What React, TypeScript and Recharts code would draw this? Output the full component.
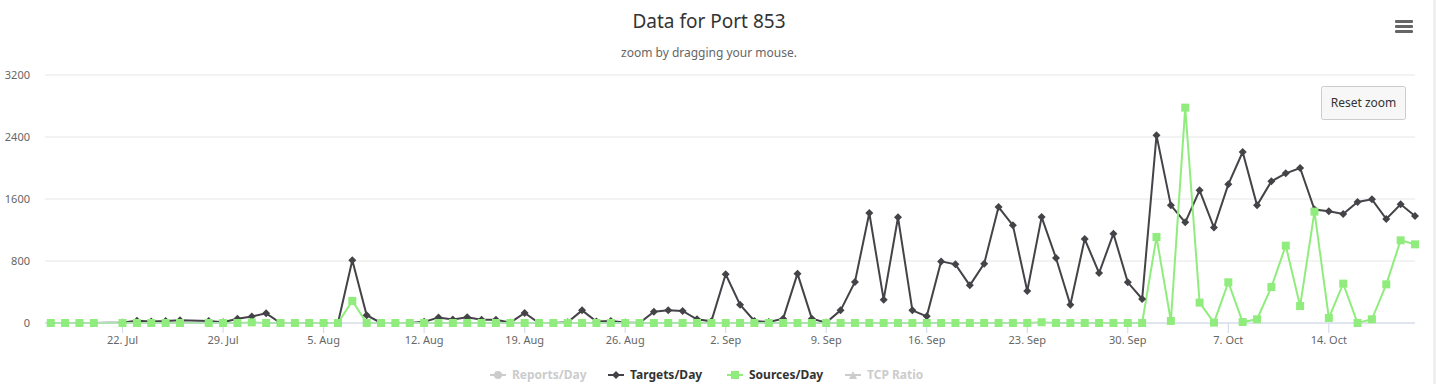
import React from "react";
import { LineChart, Line, XAxis, YAxis, CartesianGrid } from "recharts";

const dates = [
  "2019-07-17", "2019-07-18", "2019-07-19", "2019-07-20",
  "2019-07-22", "2019-07-23", "2019-07-24", "2019-07-25", "2019-07-26",
  "2019-07-28", "2019-07-29", "2019-07-30", "2019-07-31",
  "2019-08-01", "2019-08-02", "2019-08-03", "2019-08-04", "2019-08-05", "2019-08-06", "2019-08-07", "2019-08-08",
  "2019-08-09", "2019-08-10", "2019-08-11", "2019-08-12", "2019-08-13", "2019-08-14", "2019-08-15", "2019-08-16",
  "2019-08-17", "2019-08-18", "2019-08-19", "2019-08-20", "2019-08-21", "2019-08-22", "2019-08-23", "2019-08-24",
  "2019-08-25", "2019-08-26", "2019-08-27", "2019-08-28", "2019-08-29", "2019-08-30", "2019-08-31",
  "2019-09-01", "2019-09-02", "2019-09-03", "2019-09-04", "2019-09-05", "2019-09-06", "2019-09-07", "2019-09-08",
  "2019-09-09", "2019-09-10", "2019-09-11", "2019-09-12", "2019-09-13", "2019-09-14", "2019-09-15", "2019-09-16",
  "2019-09-17", "2019-09-18", "2019-09-19", "2019-09-20", "2019-09-21", "2019-09-22", "2019-09-23", "2019-09-24",
  "2019-09-25", "2019-09-26", "2019-09-27", "2019-09-28", "2019-09-29", "2019-09-30",
  "2019-10-01", "2019-10-02", "2019-10-03", "2019-10-04", "2019-10-05", "2019-10-06", "2019-10-07", "2019-10-08",
  "2019-10-09", "2019-10-10", "2019-10-11", "2019-10-12", "2019-10-13", "2019-10-14", "2019-10-15", "2019-10-16",
  "2019-10-17", "2019-10-18", "2019-10-19", "2019-10-20",
];

const targetsPerDay = [
  // jul
  0, 0, 0, 0, 5, 30, 20, 25, 35, 25, 10, 55, 85,
  // aug
  125, 0, 0, 0, 0, 0, 810, 100, 0, 0, 0, 15, 72, 45, 73, 43,
  43, 5, 129, 0, 0, 10, 163, 18, 26, 5, 0, 146, 163, 155, 48,
  // sep
  22, 628, 237, 26, 13, 56, 637, 56, 5, 163, 529, 1419, 301, 1364, 163,
  86, 795, 757, 486, 766, 1496, 1260, 413, 1367, 839, 235, 1084, 645, 1153, 525,
  // oct
  310, 2421, 1518, 1299, 1712, 1231, 1789, 2206, 1518, 1828,
  1931, 2000, 1463, 1441, 1406, 1561, 1596, 1342, 1531, 1380,
];

const sourcesPerDay = [
  // jul
  0, 0, 0, 0, 0, 0, 0, 0, 0, 0, 0, 0, 8,
  // aug
  0, 0, 0, 0, 0, 0, 285, 0, 0, 0, 0, 0, 0, 0, 0, 0,
  0, 0, 0, 0, 0, 0, 0, 0, 0, 0, 0, 0, 0, 0, 0,
  // sep
  0, 0, 0, 0, 0, 0, 0, 0, 0, 0, 0, 0, 0, 0, 0,
  0, 0, 0, 0, 0, 0, 0, 0, 10, 0, 0, 0, 0, 0, 0,
  // oct
  0, 1109, 26, 2779, 263, 5, 525, 13, 48, 464,
  998, 219, 1437, 65, 508, 0, 48, 499, 1067, 1015,
];

const tickDates = [
  "2019-07-22", "2019-07-29", "2019-08-05", "2019-08-12", "2019-08-19", "2019-08-26", "2019-09-02",
  "2019-09-09", "2019-09-16", "2019-09-23", "2019-09-30", "2019-10-07", "2019-10-14",
];

const yTicks = [0, 800, 1600, 2400, 3200];

const legendItems = [
  { name: "Reports/Day", color: "#cccccc", symbol: "circle", active: false, x: 490 },
  { name: "Targets/Day", color: "#434348", symbol: "diamond", active: true, x: 608 },
  { name: "Sources/Day", color: "#90ed7d", symbol: "square", active: true, x: 727 },
  { name: "TCP Ratio", color: "#cccccc", symbol: "triangle", active: false, x: 845 },
];

const FONT = '"Noto Sans", "DejaVu Sans", sans-serif';
const DAY = 86400000;
const MONTHS = ["Jan", "Feb", "Mar", "Apr", "May", "Jun", "Jul", "Aug", "Sep", "Oct", "Nov", "Dec"];

const toTime = (d: string) => Date.parse(d + "T00:00:00Z");
const fmtDay = (t: number) => {
  const d = new Date(t);
  return `${d.getUTCDate()}. ${MONTHS[d.getUTCMonth()]}`;
};

const chartData = dates.map((d, i) => ({
  t: toTime(d),
  targets: targetsPerDay[i],
  sources: sourcesPerDay[i],
}));
const tickTimes = tickDates.map(toTime);
const xDomain = [toTime(dates[0]) - 0.4 * DAY, toTime(dates[dates.length - 1])];

function Diamond(props: any) {
  const { cx, cy } = props;
  if (cx == null || cy == null) return null;
  return (
    <path
      d={`M${cx} ${cy - 4}L${cx + 4} ${cy}L${cx} ${cy + 4}L${cx - 4} ${cy}Z`}
      fill="#434348"
    />
  );
}

function Square(props: any) {
  const { cx, cy } = props;
  if (cx == null || cy == null) return null;
  return <rect x={cx - 4} y={cy - 4} width={8} height={8} fill="#90ed7d" />;
}

function LegendSymbol({ symbol, color, x, y }: { symbol: string; color: string; x: number; y: number }) {
  const cx = x + 8;
  let marker = null;
  if (symbol === "circle") marker = <circle cx={cx} cy={y} r={4} fill={color} />;
  if (symbol === "diamond")
    marker = <path d={`M${cx} ${y - 4}L${cx + 4} ${y}L${cx} ${y + 4}L${cx - 4} ${y}Z`} fill={color} />;
  if (symbol === "square") marker = <rect x={cx - 4} y={y - 4} width={8} height={8} fill={color} />;
  if (symbol === "triangle") marker = <path d={`M${cx} ${y - 4}L${cx + 4} ${y + 4}L${cx - 4} ${y + 4}Z`} fill={color} />;
  return (
    <g>
      <line x1={x} x2={x + 16} y1={y} y2={y} stroke={color} strokeWidth={2} />
      {marker}
    </g>
  );
}

function Overlay() {
  return (
    <svg
      width={1436}
      height={384}
      style={{ position: "absolute", left: 0, top: 0, pointerEvents: "none", fontFamily: FONT }}
    >
      <text x={709} y={28} textAnchor="middle" fontSize={19} fill="#333333">
        Data for Port 853
      </text>
      <text x={709} y={57} textAnchor="middle" fontSize={12} fill="#666666">
        zoom by dragging your mouse.
      </text>

      {/* export menu */}
      <rect x={1395} y={20} width={18} height={3} rx={1} fill="#666666" />
      <rect x={1395} y={25} width={18} height={3} rx={1} fill="#666666" />
      <rect x={1395} y={30} width={18} height={3} rx={1} fill="#666666" />

      {/* reset zoom */}
      <rect x={1321.5} y={86.5} width={84} height={33} rx={2} fill="#f7f7f7" stroke="#cccccc" />
      <text x={1363.5} y={107} textAnchor="middle" fontSize={12} fill="#333333">
        Reset zoom
      </text>

      {legendItems.map((it) => (
        <g key={it.name}>
          <LegendSymbol symbol={it.symbol} color={it.color} x={it.x} y={375} />
          <text
            x={it.x + 22}
            y={379}
            fontSize={12}
            fontWeight="bold"
            fill={it.active ? "#333333" : "#cccccc"}
          >
            {it.name}
          </text>
        </g>
      ))}
    </svg>
  );
}

export default function App() {
  return (
    <div style={{ position: "absolute", left: 0, top: 0, width: 1436, height: 384, background: "#ffffff" }}>
      <LineChart
        width={1436}
        height={384}
        data={chartData}
        margin={{ top: 75, right: 21, bottom: 31, left: 0 }}
      >
        <CartesianGrid horizontal vertical={false} stroke="#e6e6e6" />
        <XAxis
          dataKey="t"
          type="number"
          domain={xDomain}
          ticks={tickTimes}
          tickFormatter={fmtDay}
          interval={0}
          height={30}
          stroke="#ccd6eb"
          tickSize={10}
          tickMargin={3}
          tick={{ fontSize: 11, fill: "#666666", fontFamily: FONT }}
        />
        <YAxis
          domain={[0, 3200]}
          ticks={yTicks}
          width={45}
          axisLine={false}
          tickLine={false}
          tickSize={8}
          tickMargin={7}
          tick={{ fontSize: 11, fill: "#666666", fontFamily: FONT }}
        />
        <Line
          type="linear"
          dataKey="targets"
          name="Targets/Day"
          stroke="#434348"
          strokeWidth={2}
          dot={Diamond}
          activeDot={false}
          isAnimationActive={false}
        />
        <Line
          type="linear"
          dataKey="sources"
          name="Sources/Day"
          stroke="#90ed7d"
          strokeWidth={2}
          dot={Square}
          activeDot={false}
          isAnimationActive={false}
        />
      </LineChart>
      <Overlay />
      <div style={{ position: "absolute", left: 1433, top: 0, width: 3, height: 384, background: "#f0f0f0" }} />
    </div>
  );
}
